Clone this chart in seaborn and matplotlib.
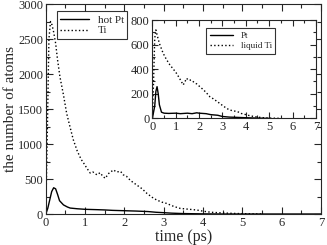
import matplotlib
matplotlib.use("Agg")
import matplotlib.pyplot as plt
import seaborn as sns
from matplotlib.ticker import MultipleLocator

# main panel: hot Pt / Ti
t_pt = [0, 0.05, 0.1, 0.15, 0.2, 0.25, 0.3, 0.35, 0.45, 0.55, 0.62, 0.8, 1.0, 1.3,
        1.5, 1.7, 2.0, 2.3, 2.6, 2.8, 3.0, 3.2, 3.5, 4.0, 4.5, 7.0]
n_pt = [0, 80, 200, 320, 375, 360, 280, 190, 130, 100, 85, 75, 67, 62,
        58, 52, 47, 42, 35, 25, 19, 12, 6, 2, 0, 0]

t_ti = [0, 0.04, 0.08, 0.12, 0.16, 0.2, 0.25, 0.3, 0.36, 0.45, 0.53, 0.6, 0.7, 0.8,
        0.9, 0.96, 1.05, 1.13, 1.2, 1.3, 1.38, 1.45, 1.51, 1.6, 1.72, 1.8, 1.9,
        1.97, 2.05, 2.15, 2.31, 2.45, 2.57, 2.7, 2.82, 2.95, 3.08, 3.2, 3.3, 3.42,
        3.6, 3.84, 4.0, 4.2, 4.5, 4.8, 5.0, 5.5]
n_ti = [0, 1200, 2500, 2750, 2700, 2600, 2440, 2200, 1960, 1700, 1440, 1280, 1060, 900,
        780, 730, 650, 585, 600, 560, 590, 540, 510, 580, 630, 600, 610,
        560, 540, 480, 415, 360, 295, 240, 200, 170, 150, 120, 100, 80,
        70, 57, 40, 25, 15, 8, 5, 0]

# inset: Pt / liquid Ti
ti_t_in = [0, 0.05, 0.1, 0.15, 0.2, 0.3, 0.46, 0.6, 0.75, 0.9, 1.03, 1.15, 1.32, 1.4,
           1.46, 1.55, 1.67, 1.8, 1.9, 2.03, 2.2, 2.35, 2.46, 2.6, 2.75, 2.88, 3.0,
           3.15, 3.3, 3.5, 3.65, 3.8, 4.0, 4.2, 4.5, 4.8, 5.0, 5.5]
ti_n_in = [0, 300, 650, 720, 680, 610, 530, 480, 435, 400, 367, 330, 272, 300,
           326, 310, 312, 290, 280, 258, 230, 200, 176, 160, 140, 122, 105,
           85, 68, 60, 54, 40, 30, 20, 10, 4, 2, 0]
pt_t_in = [0, 0.1, 0.15, 0.2, 0.25, 0.3, 0.39, 0.5, 0.7, 1.0, 1.2, 1.5, 1.7, 1.9,
           2.0, 2.3, 2.5, 2.8, 3.0, 3.3, 3.6, 4.0, 4.5, 5.0]
pt_n_in = [0, 100, 220, 258, 200, 110, 50, 42, 40, 42, 38, 42, 38, 45,
           42, 38, 30, 25, 15, 10, 8, 5, 2, 0]

sns.set_style("ticks")
plt.rcParams['font.family'] = ['Liberation Serif', 'DejaVu Serif']

fig = plt.figure(figsize=(3.27, 2.45), dpi=100)
ax = fig.add_axes([0.14, 0.1265, 0.842, 0.857])

sns.lineplot(x=t_pt, y=n_pt, ax=ax, color='black', lw=1, label='hot Pt')
sns.lineplot(x=t_ti, y=n_ti, ax=ax, color='black', lw=1, linestyle=':', label='Ti')
ax.set_xlim(0, 7)
ax.set_ylim(0, 3000)
ax.xaxis.set_major_locator(MultipleLocator(1))
ax.xaxis.set_minor_locator(MultipleLocator(0.5))
ax.yaxis.set_major_locator(MultipleLocator(500))
ax.yaxis.set_minor_locator(MultipleLocator(250))
ax.tick_params(which='both', direction='in', top=True, right=True, labelsize=9, pad=2)
ax.tick_params(which='major', length=5, width=0.8)
ax.tick_params(which='minor', length=3, width=0.8)
ax.set_xlabel('time (ps)', fontsize=11.5, labelpad=0)
ax.set_ylabel('the number of atoms', fontsize=11, labelpad=1)
for s in ax.spines.values():
    s.set_linewidth(0.8)
leg = ax.legend(loc='upper left', bbox_to_anchor=(0.04, 0.965), borderaxespad=0,
                fontsize=8, frameon=True, fancybox=False, handlelength=2.6,
                borderpad=0.3, labelspacing=0.1, handletextpad=0.8)
leg.get_frame().set_edgecolor('black')
leg.get_frame().set_linewidth(0.8)

axi = fig.add_axes([0.466, 0.517, 0.5, 0.401])
sns.lineplot(x=pt_t_in, y=pt_n_in, ax=axi, color='black', lw=1, label='Pt')
sns.lineplot(x=ti_t_in, y=ti_n_in, ax=axi, color='black', lw=1, linestyle=':', label='liquid Ti')
axi.set_xlim(0, 7)
axi.set_ylim(0, 800)
axi.xaxis.set_major_locator(MultipleLocator(1))
axi.xaxis.set_minor_locator(MultipleLocator(0.5))
axi.yaxis.set_major_locator(MultipleLocator(200))
axi.yaxis.set_minor_locator(MultipleLocator(100))
axi.tick_params(which='both', direction='in', top=True, right=True, labelsize=9, pad=2)
axi.tick_params(which='major', length=4, width=0.8)
axi.tick_params(which='minor', length=2.5, width=0.8)
for s in axi.spines.values():
    s.set_linewidth(0.8)
legi = axi.legend(loc='upper left', bbox_to_anchor=(0.33, 0.92), borderaxespad=0,
                  fontsize=6.5, frameon=True, fancybox=False, handlelength=2.6,
                  borderpad=0.4, labelspacing=0.2, handletextpad=0.8)
legi.get_frame().set_edgecolor('black')
legi.get_frame().set_linewidth(0.8)

fig.savefig('out.png', dpi=100)
